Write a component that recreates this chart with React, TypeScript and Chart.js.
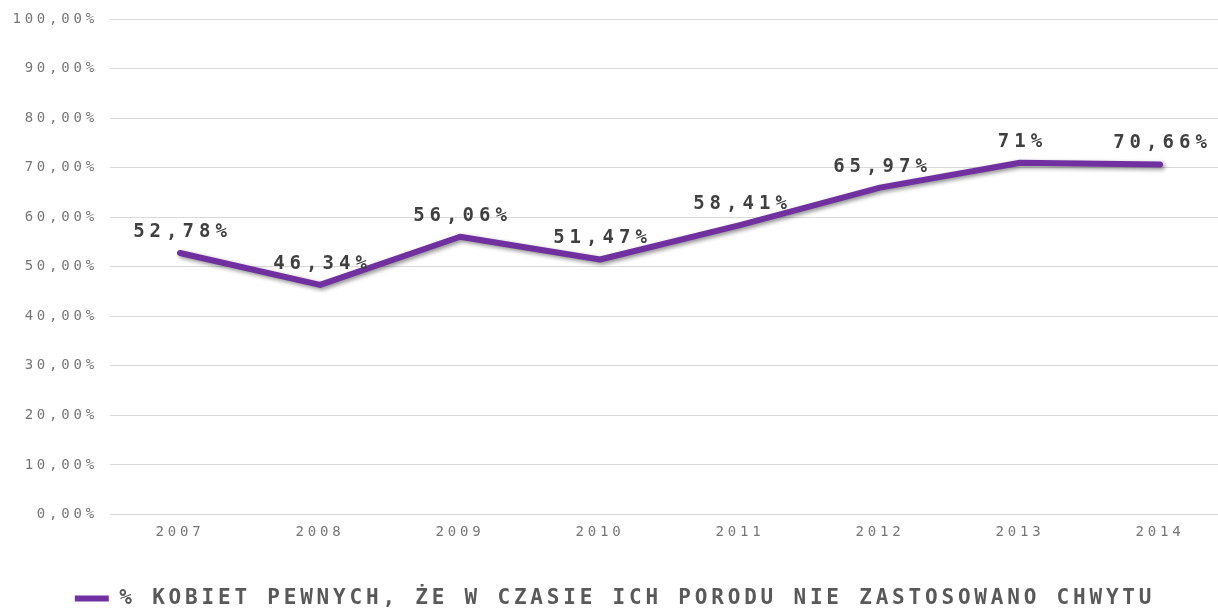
import React, { useEffect, useRef } from "react";
import { Chart, registerables } from "chart.js";

Chart.register(...registerables);

const categories = ["2007", "2008", "2009", "2010", "2011", "2012", "2013", "2014"];
const values = [52.78, 46.34, 56.06, 51.47, 58.41, 65.97, 71, 70.66];
const seriesLabel = "% KOBIET PEWNYCH, ŻE W CZASIE ICH PORODU NIE ZASTOSOWANO CHWYTU";
const yTickMax = 100;
const yTickStep = 10;

const FONT = "'DejaVu Sans Mono', monospace";
const LINE_COLOR = "#7030A0";

const fmt = (v: number) => String(v).replace(".", ",") + "%";

const spacingPlugin = {
  id: "spacing",
  beforeLayout(chart: any) {
    chart.ctx.letterSpacing = "3.8px";
  },
  beforeDraw(chart: any) {
    chart.ctx.letterSpacing = "3.8px";
  },
};

const shadowPlugin = {
  id: "lineShadow",
  beforeDatasetDraw(chart: any) {
    const ctx = chart.ctx;
    ctx.save();
    ctx.shadowColor = "rgba(0,0,0,0.45)";
    ctx.shadowBlur = 4;
    ctx.shadowOffsetX = 2;
    ctx.shadowOffsetY = 2;
  },
  afterDatasetDraw(chart: any) {
    chart.ctx.restore();
  },
};

const labelPlugin = {
  id: "dataLabels",
  afterDatasetsDraw(chart: any) {
    const ctx = chart.ctx;
    const meta = chart.getDatasetMeta(0);
    const data = chart.data.datasets[0].data as number[];
    ctx.save();
    ctx.letterSpacing = "5px";
    ctx.font = `bold 19px ${FONT}`;
    ctx.fillStyle = "#404040";
    ctx.textAlign = "center";
    ctx.textBaseline = "alphabetic";
    meta.data.forEach((pt: any, i: number) => {
      ctx.fillText(fmt(data[i]), pt.x + 2.5, pt.y - 16);
    });
    ctx.restore();
  },
};

export default function App() {
  const ref = useRef<HTMLCanvasElement>(null);
  useEffect(() => {
    if (!ref.current) return;
    const chart = new Chart(ref.current, {
      type: "line",
      data: {
        labels: categories,
        datasets: [
          {
            label: seriesLabel,
            data: values,
            borderColor: LINE_COLOR,
            backgroundColor: LINE_COLOR,
            borderWidth: 6,
            borderCapStyle: "round",
            borderJoinStyle: "round",
            pointRadius: 0,
            pointHoverRadius: 0,
            pointStyle: "line",
            tension: 0,
            fill: false,
          },
        ],
      },
      options: {
        responsive: false,
        animation: false,
        layout: { padding: { top: 14, right: 10, left: 0, bottom: 0 } },
        scales: {
          x: {
            offset: true,
            grid: { display: false, drawTicks: false },
            border: { display: false },
            ticks: {
              color: "#767676",
              font: { family: FONT, size: 14 },
              padding: 9,
              maxRotation: 0,
            },
            afterFit(scale: any) {
              scale.height = 63.5;
            },
          },
          y: {
            min: 0,
            max: yTickMax,
            grid: { color: "#d9d9d9", lineWidth: 1, drawTicks: false },
            border: { display: false },
            ticks: {
              stepSize: yTickStep,
              color: "#767676",
              font: { family: FONT, size: 14, lineHeight: 1 },
              padding: 12,
              callback: (v: any) => `${v},00%`,
            },
            afterFit(scale: any) {
              scale.width = 110;
            },
          },
        },
        plugins: {
          tooltip: { enabled: false },
          legend: {
            position: "bottom",
            labels: {
              color: "#595959",
              font: { family: FONT, size: 21, weight: "bold" },
              usePointStyle: true,
              pointStyle: "line",
              pointStyleWidth: 34,
              padding: 10,
            },
          },
        },
      },
      plugins: [spacingPlugin, shadowPlugin, labelPlugin],
    } as any);
    return () => chart.destroy();
  }, []);
  return (
    <div
      style={{
        position: "absolute",
        left: 0,
        top: 0,
        width: 1218,
        height: 608,
        overflow: "hidden",
        background: "#fff",
      }}
    >
      <canvas ref={ref} width={1240} height={619} style={{ display: "block" }} />
    </div>
  );
}
